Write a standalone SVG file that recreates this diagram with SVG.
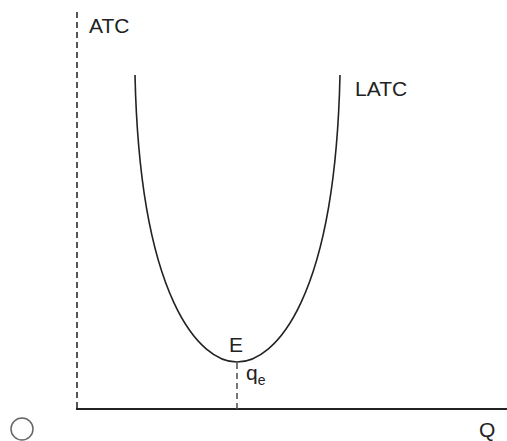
<svg xmlns="http://www.w3.org/2000/svg" width="507" height="441" viewBox="0 0 507 441">
<style>
text{font-family:"Liberation Sans",Arial,sans-serif;fill:#222;font-size:21px}
.dash{stroke:#555;stroke-width:2;stroke-dasharray:6 4;fill:none}
.axis{stroke:#222;stroke-width:2;fill:none}
.curve{stroke:#222;stroke-width:1.6;fill:none}
</style>
<rect width="507" height="441" fill="#fff"/>
<g id="connectors">
<line class="dash" x1="77" y1="12" x2="77" y2="409"/>
<line class="axis" x1="76" y1="409" x2="507" y2="409"/>
<path id="latc-curve" class="curve" d="M135,75 C140,300 200,362 237,362 C275,362 335,300 340,75"/>
<line class="dash" x1="237" y1="363" x2="237" y2="409" style="stroke-width:1.6"/>
</g>
<g id="atc-label"><text x="89" y="33">ATC</text></g>
<g id="latc-label"><text x="355" y="96">LATC</text></g>
<g id="e-label"><text x="229" y="352">E</text></g>
<g id="qe-label"><text x="246" y="380">q<tspan font-size="14" dy="5">e</tspan></text></g>
<g id="q-label"><text x="479" y="437">Q</text></g>
<g id="radio"><circle cx="22" cy="429" r="11" fill="none" stroke="#666" stroke-width="1.5"/></g>
</svg>
